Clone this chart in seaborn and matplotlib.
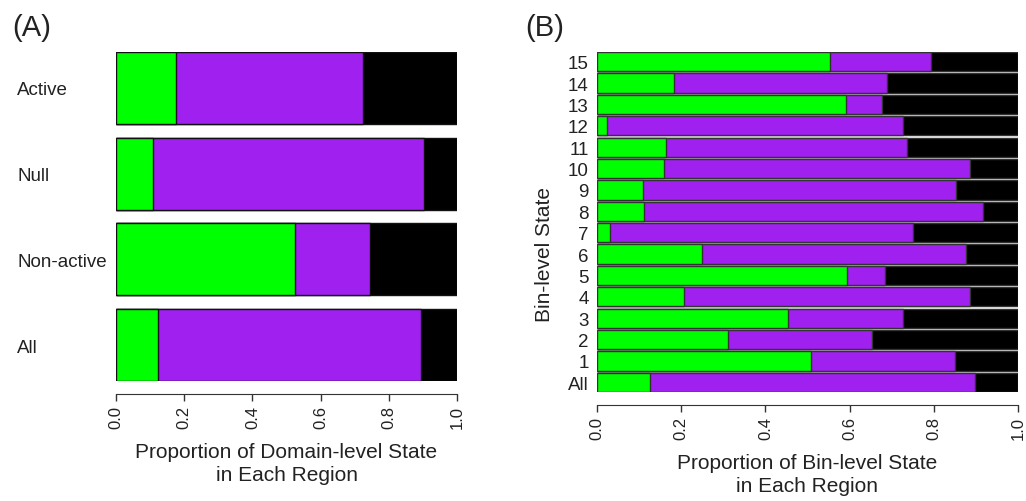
import numpy as np
import pandas as pd
import matplotlib
matplotlib.use("Agg")
import matplotlib.pyplot as plt
import seaborn as sns

sns.set_style("white")
plt.rcParams['font.family'] = ['Liberation Sans', 'DejaVu Sans']
plt.rcParams['text.color'] = '#222222'
plt.rcParams['axes.labelcolor'] = '#222222'
plt.rcParams['xtick.color'] = '#222222'
plt.rcParams['ytick.color'] = '#222222'

# panel A: domain-level state per region
regions_a = ["Active", "Null", "Non-active", "All"]
green_a = [0.176, 0.109, 0.525, 0.123]
purple_a = [0.548, 0.794, 0.220, 0.771]
black_a = [0.276, 0.097, 0.255, 0.106]

# panel B: bin-level state per region (top to bottom)
states_b = ["15", "14", "13", "12", "11", "10", "9", "8", "7", "6", "5", "4", "3", "2", "1", "All"]
green_b = [0.553, 0.182, 0.591, 0.023, 0.163, 0.158, 0.110, 0.112,
           0.032, 0.249, 0.595, 0.206, 0.453, 0.311, 0.509, 0.126]
purple_b = [0.240, 0.508, 0.085, 0.705, 0.573, 0.729, 0.743, 0.804,
            0.719, 0.627, 0.090, 0.680, 0.275, 0.342, 0.342, 0.772]
black_b = [0.207, 0.310, 0.324, 0.272, 0.264, 0.113, 0.147, 0.084,
           0.249, 0.124, 0.315, 0.114, 0.272, 0.347, 0.149, 0.102]

colors = {"green": "#00FF00", "purple": "#A020F0", "black": "#000000"}

W, H = 1026, 502


def px_axes(fig, x0, x1, y0, y1):
    return fig.add_axes([x0 / W, 1 - y1 / H, (x1 - x0) / W, (y1 - y0) / H])


def stacked(ax, cats, g, p, b, width, edge):
    df = pd.DataFrame({"cat": cats, "green": g, "purple": p, "black": b})
    df["c_green"] = df["green"]
    df["c_purple"] = df["green"] + df["purple"]
    df["c_black"] = df["c_purple"] + df["black"]
    for seg in ["black", "purple", "green"]:
        sns.barplot(data=df, x="c_" + seg, y="cat", order=cats, orient="h",
                    color=colors[seg], width=width, edgecolor=edge,
                    linewidth=1.0, saturation=1, errorbar=None, ax=ax)
    n = len(cats)
    ax.set_ylim(n - 1 + width / 2, -width / 2)
    ax.set_xlim(0, 1)
    for s in ["top", "right", "left"]:
        ax.spines[s].set_visible(False)
    ax.spines["bottom"].set_position(("outward", 9))
    ax.spines["bottom"].set_bounds(0, 1)
    ax.spines["bottom"].set_color("#333333")
    ax.set_xticks([0, 0.2, 0.4, 0.6, 0.8, 1.0])
    ax.set_xticklabels(["0.0", "0.2", "0.4", "0.6", "0.8", "1.0"], rotation=90)
    ax.tick_params(axis="x", length=5, width=1, labelsize=12, pad=3,
                   bottom=True, color="#333333")
    ax.set_ylabel("")


fig = plt.figure(figsize=(W / 100, H / 100), dpi=100)

# panel A
axA = px_axes(fig, 116, 457, 53, 382)
stacked(axA, regions_a, green_a, purple_a, black_a, 0.84, "#111111")
axA.tick_params(axis="y", length=0, labelsize=13.5, pad=71)
for lab in axA.get_yticklabels():
    lab.set_horizontalalignment("left")
axA.set_xlabel("Proportion of Domain-level State\nin Each Region", fontsize=15,
               labelpad=10, linespacing=1.3)
fig.text(32 / W, 1 - 28 / H, "(A)", fontsize=21, ha="center", va="center")

# panel B
axB = px_axes(fig, 597, 1018, 53, 393)
stacked(axB, states_b, green_b, purple_b, black_b, 0.9, "#333333")
axB.tick_params(axis="y", length=0, labelsize=13.5, pad=6)
axB.set_xlabel("Proportion of Bin-level State\nin Each Region", fontsize=15,
               labelpad=10, linespacing=1.3)
fig.text(545 / W, 1 - 28 / H, "(B)", fontsize=21, ha="center", va="center")
fig.text(545 / W, 1 - 254 / H, "Bin-level State", fontsize=15, rotation=90,
         ha="center", va="center")

fig.savefig("out.png", dpi=100, facecolor="white")
